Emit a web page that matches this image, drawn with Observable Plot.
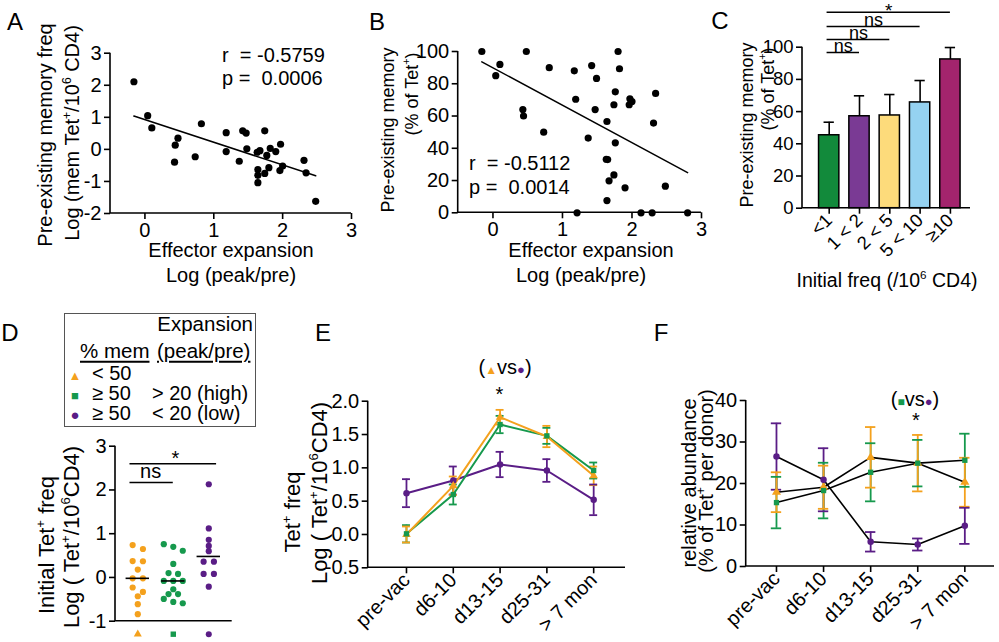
<!DOCTYPE html>
<html><head><meta charset="utf-8">
<script src="https://cdn.jsdelivr.net/npm/d3@7"></script>
<script src="https://cdn.jsdelivr.net/npm/@observablehq/plot@0.6"></script>
<style>
html,body{margin:0;padding:0;background:#fff;}
#fig{position:relative;width:999px;height:642px;overflow:hidden;font-family:"Liberation Sans",Arial,Helvetica,sans-serif;color:#000;}
.w{position:absolute;}
.w svg{overflow:visible;}
.t{position:absolute;white-space:pre;font-size:20px;line-height:1;}
.t sup{font-size:0.6em;position:relative;top:-0.7em;line-height:0;vertical-align:baseline;}
.u{text-decoration:underline;text-underline-offset:3px;text-decoration-thickness:1.5px;}
</style></head><body><div id="fig"></div><script>
// ---------- Panel A ----------
const aExpansion = [-0.16,0.04,0.10,0.82,0.48,0.44,0.43,0.73,1.18,1.18,1.42,1.47,1.48,1.37,1.74,1.63,1.67,1.77,1.82,1.90,1.97,1.80,1.64,1.64,1.74,1.64,2.00,1.96,2.31,2.34,2.48];
const aMemFreq  = [2.11,1.05,0.67,0.80,0.35,0.13,-0.40,-0.23,0.52,-0.07,0.58,0.51,0.02,-0.37,0.58,-0.09,-0.04,-0.19,0.03,-0.07,0.16,-0.57,-0.63,-0.81,-0.75,-1.04,-0.52,-0.66,-0.34,-0.73,-1.62];
// ---------- Panel B ----------
const bExpansion = [-0.16,0.04,0.10,0.48,0.43,0.44,0.81,0.73,1.17,1.19,1.21,1.42,1.49,1.47,1.37,1.80,1.82,1.76,1.74,1.64,1.76,1.63,1.65,1.74,1.67,1.90,1.64,1.97,2.00,1.96,2.34,2.31,2.48,2.13,2.29,2.80];
const bMemPct    = [100,85,92,100,64,60,90,50,88,70.4,0,91.3,83.3,64,46.3,100,89.3,75,67,56.6,43.4,33.2,33,23.5,19.8,15.5,7.6,70.7,69,67,74,55.6,16.5,0,0,0];
// ---------- Panel C ----------
const cBins   = ["<1","1 < 2","2 < 5","5 < 10","≥10"];
const cMean   = [45.3,57.1,57.6,65.7,92.4];
const cSem    = [8.1,12.7,13.0,13.6,7.4];
const cColors = ["#128a3b","#7a3a94","#fddb7b","#95d2f1","#a3246d"];
const cSig    = [{to:1,y:96.7,label:"ns"},{to:2,y:104.8,label:"ns"},{to:3,y:112.9,label:"ns"},{to:4,y:121.7,label:"*"}];
// ---------- Panel D ----------
const dOrange = [0.74,0.65,0.375,0.37,0.18,-0.02,-0.02,-0.23,-0.33,-0.43,-0.61,-0.84];
const dGreen  = [0.76,0.70,0.61,0.31,0.10,0.08,-0.08,-0.08,-0.08,-0.27,-0.38,-0.38,-0.49,-0.56,-0.59];
const dPurple = [2.13,1.12,0.86,0.72,0.60,0.36,0.36,0.08,0.08,-0.21];
const dSig = [{from:0,to:1,y:2.17,label:"ns"},{from:0,to:2,y:2.6,label:"*"}];
// ---------- Panel E / F ----------
const timepoints = ["pre-vac","d6-10","d13-15","d25-31","> 7 mon"];
const ePurpleMean = [0.62,0.81,1.05,0.96,0.52], ePurpleErr = [0.21,0.21,0.19,0.17,0.23];
const eGreenMean  = [0.01,0.60,1.65,1.48,0.96], eGreenErr  = [0.13,0.15,0.13,0.12,0.12];
const eOrangeMean = [0.00,0.73,1.76,1.47,0.88], eOrangeErr = [0.12,0.14,0.11,0.16,0.14];
const fPurpleMean = [26.5,20.9,5.95,5.3,9.8],   fPurpleErr = [8.0,7.6,2.35,1.45,4.35];
const fGreenMean  = [15.4,18.3,22.7,24.9,25.6], fGreenErr  = [6.2,6.7,7.0,5.6,6.4];
const fOrangeMean = [17.9,19.1,26.3,24.9,20.3], fOrangeErr = [4.8,5.2,7.3,6.8,5.9];

const ORANGE = "#f4a11d", GREEN = "#16994d", PURPLE = "#5a1d86";
const FONT = '"Liberation Sans", Arial, Helvetica, sans-serif';
const fig = document.getElementById("fig");
const style = {fontFamily: FONT, fontSize: "20px", color: "#000", background: "transparent", overflow: "visible"};

function place(svg, left, top) {
  const w = document.createElement("div"); w.className = "w";
  w.style.left = left + "px"; w.style.top = top + "px";
  w.appendChild(svg); fig.appendChild(w);
}
function T(html, x, y, o = {}) {
  const el = document.createElement("div"); el.className = "t"; el.innerHTML = html;
  el.style.left = x + "px"; el.style.top = y + "px";
  el.style.fontSize = (o.size || 20) + "px";
  const tx = o.anchor === "start" ? "0" : o.anchor === "end" ? "-100%" : "-50%";
  el.style.transform = o.rot ? "translate(-50%,-50%) rotate(-90deg)" : `translate(${tx},-50%)`;
  fig.appendChild(el); return el;
}
// L-shaped axis lines drawn from the plot's own frame dimensions
const axisLines = (index, scales, values, d) => {
  const g = d3.create("svg:g").attr("stroke", "#000").attr("stroke-width", 1.6).attr("fill", "none");
  g.append("path").attr("d", `M${d.marginLeft},${d.marginTop}V${d.height - d.marginBottom}H${d.width - d.marginRight}`);
  return g.node();
};
const hy = v => String(v);
const ax = (o) => Plot.axisX({tickSize: 6, tickPadding: 3, strokeWidth: 1.6, label: null, ...o});
const ay = (o) => Plot.axisY({tickSize: 6, tickPadding: 3, strokeWidth: 1.6, label: null, ...o});

// ===== A =====
const aData = aExpansion.map((x, i) => ({x, y: aMemFreq[i]}));
place(Plot.plot({
  width: 360, height: 300, marginLeft: 110, marginRight: 9, marginTop: 52.7, marginBottom: 87, style,
  x: {domain: [-0.5, 3]}, y: {domain: [-2, 3]},
  marks: [
    axisLines,
    ax({ticks: [0, 1, 2, 3], tickFormat: hy}),
    ay({ticks: [-2, -1, 0, 1, 2, 3], tickFormat: hy}),
    Plot.linearRegressionY(aData, {x: "x", y: "y", ci: 0, stroke: "#000", strokeWidth: 1.5}),
    Plot.dot(aData, {x: "x", y: "y", r: 3.6, fill: "#000"})
  ]
}), 0, 0);

// ===== B =====
const bData = bExpansion.map((x, i) => ({x, y: bMemPct[i]}));
place(Plot.plot({
  width: 370, height: 300, marginLeft: 117.7, marginRight: 9, marginTop: 51, marginBottom: 87.7, style,
  x: {domain: [-0.5, 3]}, y: {domain: [0, 100]},
  marks: [
    axisLines,
    ax({ticks: [0, 1, 2, 3], tickFormat: hy}),
    ay({ticks: [0, 20, 40, 60, 80, 100], tickFormat: hy}),
    Plot.linearRegressionY(bData, {x: "x", y: "y", ci: 0, stroke: "#000", strokeWidth: 1.5}),
    Plot.dot(bData, {x: "x", y: "y", r: 3.6, fill: "#000"})
  ]
}), 340, 0);

// ===== C =====
const cData = cBins.map((c, i) => ({i, c, m: cMean[i], e: cSem[i], col: cColors[i]}));
const cHalf = 0.335;
place(Plot.plot({
  width: 299, height: 300, marginLeft: 102, marginRight: 29, marginTop: 46.7, marginBottom: 92.3,
  style: {...style, fontSize: "18.5px"},
  x: {domain: [-0.881, 4.663]}, y: {domain: [0, 100]},
  color: {type: "identity"},
  marks: [
    Plot.ruleX(cData, {x: "i", y1: "m", y2: d => d.m + d.e, strokeWidth: 1.6}),
    Plot.ruleY(cData, {y: d => d.m + d.e, x1: d => d.i - 0.17, x2: d => d.i + 0.17, strokeWidth: 1.6}),
    Plot.rectY(cData, {x1: d => d.i - cHalf, x2: d => d.i + cHalf, y1: 0, y2: "m", fill: "col", stroke: "#000", strokeWidth: 1.5}),
    axisLines,
    ax({ticks: [0, 1, 2, 3, 4], tickFormat: i => cBins[i], tickRotate: -45}),
    ay({ticks: [0, 20, 40, 60, 80, 100], tickFormat: hy}),
    Plot.ruleY(cSig, {y: "y", x1: -0.07, x2: "to", strokeWidth: 1.5}),
    Plot.text(cSig.filter(d => d.label !== "*"), {x: d => (d.to - 0.07) / 2, y: "y", text: "label", dy: -6.5, fontSize: 18}),
    Plot.text(cSig.filter(d => d.label === "*"), {x: d => (d.to - 0.07) / 2, y: "y", text: "label", dy: -1, fontSize: 19})
  ]
}), 700, 0);

// ===== D =====
const dRaw = [dOrange, dGreen, dPurple];
const pxPerUnitD = 175 / 4, pxPerX = 35.5;
const dData = [];
dRaw.forEach((vals, g) => {
  const s = [...vals].sort((a, b) => b - a);
  const rows = [];
  s.forEach(v => {
    const r = rows[rows.length - 1];
    if (r && (r[r.length - 1] - v) * pxPerUnitD < 4.6 && (r[0] - v) * pxPerUnitD < 7) r.push(v); else rows.push([v]);
  });
  const sp = g === 1 ? 9.5 : 10.3;
  rows.forEach(r => r.forEach((v, j) => dData.push({g, v, x: g + (j - (r.length - 1) / 2) * sp / pxPerX})));
});
const dMed = dRaw.map((vals, g) => ({g, m: d3.median(vals)}));
const dCols = [ORANGE, GREEN, PURPLE], dSyms = ["triangle", "square", "circle"];
const dSymR = [4.6, 4.8, 4.7];
place(Plot.plot({
  width: 330, height: 342, marginLeft: 115, marginRight: 98.3, marginTop: 145.7, marginBottom: 21.3, style,
  x: {domain: [-0.628, 2.66], axis: null}, y: {domain: [-1, 3]},
  color: {type: "identity"}, symbol: {type: "identity"},
  marks: [
    axisLines,
    ay({ticks: [-1, 0, 1, 2, 3], tickFormat: hy}),
    Plot.dot(dData, {x: "x", y: "v", r: 3.1, fill: d => dCols[d.g]}),
    Plot.ruleY(dMed, {y: "m", x1: d => d.g - 0.33, x2: d => d.g + 0.33, strokeWidth: 1.6}),
    Plot.ruleY(dSig, {y: "y", x1: d => d.from - 0.22, x2: d => d.to + (d.to === 2 ? 0.22 : 0), strokeWidth: 1.5}),
    Plot.text(dSig.filter(d => d.label !== "*"), {x: d => (d.from + d.to) / 2 - 0.14, y: "y", text: "label", dy: -11, fontSize: 20}),
    Plot.text(dSig.filter(d => d.label === "*"), {x: d => (d.from + d.to) / 2 + 0.06, y: "y", text: "label", dy: -5, fontSize: 20}),
    Plot.dot([0, 1, 2], {x: d => d, y: -1, dy: 13, symbol: d => dSyms[d], r: d => dSymR[d], fill: d => dCols[d], stroke: "none"})
  ]
}), 0, 300);

// ===== E / F helpers =====
function series(means, errs, col, sym, name) {
  return means.map((m, i) => ({i, m, lo: m - errs[i], hi: m + errs[i], col, sym, name}));
}
function lineChart(data, {lineColor, capHalf, rMap}) {
  return [
    Plot.ruleX(data, {x: "i", y1: "lo", y2: "hi", stroke: "col", strokeWidth: 1.8}),
    Plot.ruleY(data, {y: "lo", x1: d => d.i - capHalf, x2: d => d.i + capHalf, stroke: "col", strokeWidth: 1.8}),
    Plot.ruleY(data, {y: "hi", x1: d => d.i - capHalf, x2: d => d.i + capHalf, stroke: "col", strokeWidth: 1.8}),
    Plot.line(data, {x: "i", y: "m", z: "name", stroke: lineColor || "col", strokeWidth: lineColor ? 1.6 : 2}),
    Plot.dot(data, {x: "i", y: "m", symbol: "sym", r: d => rMap[d.sym], fill: "col", stroke: "none"})
  ];
}

// ===== E =====
const eData = [
  ...series(ePurpleMean, ePurpleErr, PURPLE, "circle", "low"),
  ...series(eGreenMean, eGreenErr, GREEN, "square", "high"),
  ...series(eOrangeMean, eOrangeErr, ORANGE, "triangle", "mem<50")
];
place(Plot.plot({
  width: 330, height: 342, marginLeft: 37.7, marginRight: 35, marginTop: 100.7, marginBottom: 74.7, style,
  x: {domain: [-0.818, 4.68]}, y: {domain: [-0.5, 2]},
  color: {type: "identity"}, symbol: {type: "identity"},
  marks: [
    axisLines,
    ax({ticks: [0, 1, 2, 3, 4], tickFormat: i => timepoints[i], tickRotate: -45}),
    ay({ticks: [-0.5, 0, 0.5, 1, 1.5, 2], tickFormat: d => d.toFixed(1)}),
    ...lineChart(eData, {capHalf: 0.085, rMap: {circle: 3.7, square: 3.2, triangle: 3.6}})
  ]
}), 330, 300);

// ===== F =====
const fData = [
  ...series(fPurpleMean, fPurpleErr, PURPLE, "circle", "low"),
  ...series(fGreenMean, fGreenErr, GREEN, "square", "high"),
  ...series(fOrangeMean, fOrangeErr, ORANGE, "triangle", "mem<50")
];
place(Plot.plot({
  width: 339, height: 342, marginLeft: 85.7, marginRight: 5, marginTop: 100, marginBottom: 76, style,
  x: {domain: [-0.643, 4.63]}, y: {domain: [0, 40]},
  color: {type: "identity"}, symbol: {type: "identity"},
  marks: [
    axisLines,
    ax({ticks: [0, 1, 2, 3, 4], tickFormat: i => timepoints[i], tickRotate: -45}),
    ay({ticks: [0, 10, 20, 30, 40], tickFormat: hy}),
    ...lineChart(fData, {lineColor: "#000", capHalf: 0.11, rMap: {circle: 3.7, square: 3.2, triangle: 4}})
  ]
}), 660, 300);

// ===== Text =====
const L = 24;
T("A", 15, 22, {size: L}); T("B", 377, 22, {size: L}); T("C", 720, 21, {size: L});
T("D", 10, 333, {size: L}); T("E", 323, 333, {size: L}); T("F", 661, 333, {size: L});
// A
T("Pre-existing memory freq", 45, 135, {rot: true});
T("Log (mem Tet<sup>+</sup>/10<sup>6</sup> CD4)", 72, 133, {rot: true});
T("Effector expansion", 231, 250); T("Log (peak/pre)", 231, 275);
T("r  = -0.5759", 222, 55, {anchor: "start"}); T("p =  0.0006", 222, 78, {anchor: "start"});
// B
T("Pre-existing memory", 388, 130, {rot: true, size: 18});
T("(% of Tet<sup>+</sup>)", 412, 94, {rot: true, size: 18});
T("Effector expansion", 591, 250); T("Log (peak/pre)", 581, 275);
T("r  = -0.5112", 469, 163, {anchor: "start"}); T("p =  0.0014", 469, 187, {anchor: "start"});
// C
T("Pre-existing memory", 747, 125, {rot: true, size: 18});
T("(% of Tet<sup>+</sup>)", 768, 89, {rot: true, size: 18});
T("Initial freq (/10<sup>6</sup> CD4)", 887, 281, {size: 19.5});
// D legend
const box = document.createElement("div");
Object.assign(box.style, {position: "absolute", left: "64px", top: "313px", width: "190px", height: "112px", border: "1.5px solid #555"});
fig.appendChild(box);
T("Expansion", 253, 324, {anchor: "end", size: 20.5});
T('<span class="u">% mem</span>', 80, 351, {anchor: "start", size: 20.5});
T('<span class="u">(peak/pre)</span>', 157, 351, {anchor: "start", size: 20.5});
T(`<span style="color:${ORANGE};font-size:13px">▲</span>`, 75, 373, {});
T(`<span style="color:${GREEN};font-size:13px">■</span>`, 75, 393, {});
T(`<span style="color:${PURPLE};font-size:15px">●</span>`, 75, 413, {});
T("< 50", 92, 373, {anchor: "start", size: 20});
T("≥ 50", 92, 393, {anchor: "start", size: 20}); T("> 20 (high)", 152, 393, {anchor: "start", size: 20});
T("≥ 50", 92, 413, {anchor: "start", size: 20}); T("< 20 (low)", 152, 413, {anchor: "start", size: 20});
T("Initial Tet<sup>+</sup> freq", 47, 545, {rot: true, size: 22});
T("Log ( Tet<sup>+</sup>/10<sup>6</sup>CD4)", 72, 537, {rot: true, size: 22});
// E
T("Tet<sup>+</sup> freq", 293, 512, {rot: true, size: 22});
T("Log ( Tet<sup>+</sup>/10<sup>6</sup>CD4)", 320, 493, {rot: true, size: 22});
T(`(<span style="color:${ORANGE};font-size:12px">▲</span>vs<span style="color:${PURPLE};font-size:13px">●</span>)`, 505, 367);
T("*", 499.5, 394);
// F
T("relative abundance", 689, 483, {rot: true});
T("(% of Tet<sup>+</sup> per donor)", 706, 481, {rot: true});
T(`(<span style="color:${GREEN};font-size:12px">■</span>vs<span style="color:${PURPLE};font-size:13px">●</span>)`, 915, 399);
T("*", 916, 420);
</script></body></html>
